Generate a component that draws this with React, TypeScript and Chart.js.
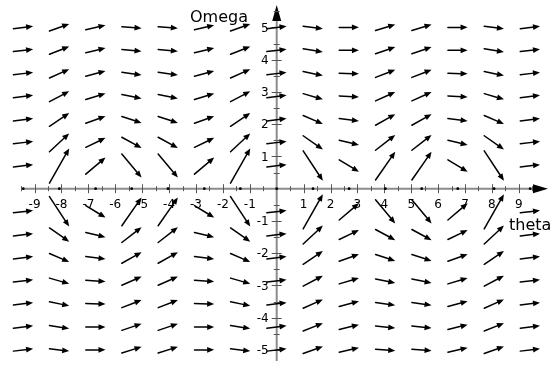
import React, { useEffect, useRef } from "react";
import { Chart, registerables } from "chart.js";

Chart.register(...registerables);

// Grid columns (theta) and rows (Omega) of the direction field
const thetaValues = [-9.42, -8.08, -6.73, -5.39, -4.04, -2.69, -1.35, 0, 1.35, 2.69, 4.04, 5.39, 6.73, 8.08, 9.42];
const omegaValues = [5, 4.29, 3.57, 2.86, 2.14, 1.43, 0.71, -0.71, -1.43, -2.14, -2.86, -3.57, -4.29, -5];

// Slope dOmega/dtheta read at each grid point (rows follow omegaValues)
const slopeRow1 = [0.1, 0.3, 0.19, -0.06, -0.06, 0.19, 0.3, 0.1, -0.1, 0.01, 0.26, 0.26, 0.01, -0.1, 0.1];
const slopeRow2 = [0.1, 0.33, 0.2, -0.08, -0.08, 0.2, 0.33, 0.1, -0.13, 0.0, 0.28, 0.28, 0.0, -0.13, 0.1];
const slopeRow3 = [0.1, 0.37, 0.22, -0.12, -0.12, 0.22, 0.37, 0.1, -0.17, -0.02, 0.32, 0.32, -0.02, -0.17, 0.1];
const slopeRow4 = [0.1, 0.44, 0.25, -0.17, -0.17, 0.25, 0.44, 0.1, -0.24, -0.05, 0.37, 0.37, -0.05, -0.24, 0.1];
const slopeRow5 = [0.1, 0.56, 0.3, -0.27, -0.27, 0.3, 0.56, 0.1, -0.36, -0.1, 0.47, 0.47, -0.1, -0.36, 0.1];
const slopeRow6 = [0.1, 0.78, 0.4, -0.45, -0.45, 0.4, 0.78, 0.1, -0.58, -0.2, 0.65, 0.65, -0.2, -0.58, 0.1];
const slopeRow7 = [0.1, 1.47, 0.71, -1.0, -1.0, 0.71, 1.47, 0.1, -1.27, -0.51, 1.2, 1.2, -0.51, -1.27, 0.1];
const slopeRow8 = [0.1, -1.27, -0.51, 1.2, 1.2, -0.51, -1.27, 0.1, 1.47, 0.71, -1.0, -1.0, 0.71, 1.47, 0.1];
const slopeRow9 = [0.1, -0.58, -0.2, 0.65, 0.65, -0.2, -0.58, 0.1, 0.78, 0.4, -0.45, -0.45, 0.4, 0.78, 0.1];
const slopeRow10 = [0.1, -0.36, -0.1, 0.47, 0.47, -0.1, -0.36, 0.1, 0.56, 0.3, -0.27, -0.27, 0.3, 0.56, 0.1];
const slopeRow11 = [0.1, -0.24, -0.05, 0.37, 0.37, -0.05, -0.24, 0.1, 0.44, 0.25, -0.17, -0.17, 0.25, 0.44, 0.1];
const slopeRow12 = [0.1, -0.17, -0.02, 0.32, 0.32, -0.02, -0.17, 0.1, 0.37, 0.22, -0.12, -0.12, 0.22, 0.37, 0.1];
const slopeRow13 = [0.1, -0.13, 0.0, 0.28, 0.28, 0.0, -0.13, 0.1, 0.33, 0.2, -0.08, -0.08, 0.2, 0.33, 0.1];
const slopeRow14 = [0.1, -0.1, 0.01, 0.26, 0.26, 0.01, -0.1, 0.1, 0.3, 0.19, -0.06, -0.06, 0.19, 0.3, 0.1];
const slopeRows = [
  slopeRow1, slopeRow2, slopeRow3, slopeRow4, slopeRow5, slopeRow6, slopeRow7,
  slopeRow8, slopeRow9, slopeRow10, slopeRow11, slopeRow12, slopeRow13, slopeRow14,
];

const xTickLabels = [-9, -8, -7, -6, -5, -4, -3, -2, -1, 1, 2, 3, 4, 5, 6, 7, 8, 9];
const yTickLabels = [-5, -4, -3, -2, -1, 1, 2, 3, 4, 5];
const xAxisTitle = "theta";
const yAxisTitle = "Omega";

const ARROW_HALF_DX = 0.366;

function drawArrow(ctx: CanvasRenderingContext2D, x1: number, y1: number, x2: number, y2: number) {
  const ang = Math.atan2(y2 - y1, x2 - x1);
  const headLen = 7;
  const headHalf = 2.9;
  const bx = x2 - headLen * Math.cos(ang);
  const by = y2 - headLen * Math.sin(ang);
  ctx.beginPath();
  ctx.moveTo(x1, y1);
  ctx.lineTo(bx + Math.cos(ang) * 1, by + Math.sin(ang) * 1);
  ctx.stroke();
  ctx.beginPath();
  ctx.moveTo(x2, y2);
  ctx.lineTo(bx - headHalf * Math.sin(ang), by + headHalf * Math.cos(ang));
  ctx.lineTo(bx + headHalf * Math.sin(ang), by - headHalf * Math.cos(ang));
  ctx.closePath();
  ctx.fill();
}

const fieldPlugin = {
  id: "fieldPlugin",
  beforeDatasetsDraw(chart: any) {
    const ctx: CanvasRenderingContext2D = chart.ctx;
    const xs = chart.scales.x;
    const ys = chart.scales.y;
    const x0 = xs.getPixelForValue(0);
    const y0 = ys.getPixelForValue(0);
    const left = xs.getPixelForValue(thetaValues[0]);
    const right = chart.chartArea.right;
    const top = chart.chartArea.top;
    const bottom = chart.chartArea.bottom;
    ctx.save();
    // axis lines
    ctx.strokeStyle = "#8c8c8c";
    ctx.lineWidth = 2;
    ctx.beginPath();
    ctx.moveTo(left, y0);
    ctx.lineTo(right - 10, y0);
    ctx.moveTo(x0, bottom);
    ctx.lineTo(x0, top + 10);
    ctx.stroke();
    // arrowheads
    ctx.fillStyle = "#000";
    ctx.beginPath();
    ctx.moveTo(right, y0);
    ctx.lineTo(right - 15, y0 - 4.5);
    ctx.lineTo(right - 15, y0 + 4.5);
    ctx.closePath();
    ctx.fill();
    ctx.beginPath();
    ctx.moveTo(x0, top + 1);
    ctx.lineTo(x0 - 4.5, top + 17);
    ctx.lineTo(x0 + 4.5, top + 17);
    ctx.closePath();
    ctx.fill();
    // ticks
    ctx.strokeStyle = "#555";
    ctx.lineWidth = 1;
    for (let v = -9.5; v <= 9.5; v += 0.5) {
      if (v === 0) continue;
      const px = Math.round(xs.getPixelForValue(v)) + 0.5;
      const major = Number.isInteger(v);
      const h = major ? 4.5 : 2.5;
      ctx.beginPath();
      ctx.moveTo(px, y0 - h);
      ctx.lineTo(px, y0 + h);
      ctx.stroke();
    }
    for (let v = -5; v <= 5.5; v += 0.5) {
      if (v === 0) continue;
      const py = Math.round(ys.getPixelForValue(v)) + 0.5;
      const major = Number.isInteger(v);
      const w = major ? 5 : 3;
      ctx.beginPath();
      ctx.moveTo(x0 - w, py);
      ctx.lineTo(x0 + w, py);
      ctx.stroke();
    }
    // tick labels
    ctx.fillStyle = "#000";
    ctx.font = "12px 'DejaVu Sans'";
    ctx.textAlign = "center";
    ctx.textBaseline = "middle";
    for (const v of xTickLabels) {
      ctx.fillText(String(v), xs.getPixelForValue(v), y0 + 16);
    }
    ctx.textAlign = "right";
    for (const v of yTickLabels) {
      ctx.fillText(String(v), x0 - 8, ys.getPixelForValue(v) + 1);
    }
    // axis titles
    ctx.font = "16px 'DejaVu Sans'";
    ctx.textAlign = "left";
    ctx.textBaseline = "alphabetic";
    ctx.fillText(yAxisTitle, 190, 21.5);
    ctx.fillText(xAxisTitle, 509, 230);
    ctx.restore();
  },
  afterDatasetsDraw(chart: any) {
    const ctx: CanvasRenderingContext2D = chart.ctx;
    const xs = chart.scales.x;
    const ys = chart.scales.y;
    ctx.save();
    ctx.strokeStyle = "#000";
    ctx.fillStyle = "#000";
    ctx.lineWidth = 1.5;
    ctx.lineCap = "round";
    omegaValues.forEach((w, j) => {
      thetaValues.forEach((t, i) => {
        const s = slopeRows[j][i];
        const x1 = xs.getPixelForValue(t - ARROW_HALF_DX);
        const y1 = ys.getPixelForValue(w - ARROW_HALF_DX * s);
        const x2 = xs.getPixelForValue(t + ARROW_HALF_DX);
        const y2 = ys.getPixelForValue(w + ARROW_HALF_DX * s);
        drawArrow(ctx, x1, y1, x2, y2);
      });
    });
    ctx.restore();
  },
};

export default function App() {
  const canvasRef = useRef<HTMLCanvasElement | null>(null);
  useEffect(() => {
    if (!canvasRef.current) return;
    const centers: { x: number; y: number }[] = [];
    omegaValues.forEach((w) => thetaValues.forEach((t) => centers.push({ x: t, y: w })));
    const chart = new Chart(canvasRef.current, {
      type: "scatter",
      data: {
        datasets: [
          { label: "field", data: centers, pointRadius: 0, showLine: false },
          {
            label: "singular",
            data: thetaValues.map((t) => ({ x: t, y: 0 })),
            pointRadius: 1.4,
            pointBackgroundColor: "#000",
            pointBorderWidth: 0,
            showLine: false,
          },
        ],
      },
      options: {
        animation: false,
        responsive: false,
        devicePixelRatio: 1,
        layout: { padding: 0 },
        plugins: { legend: { display: false }, tooltip: { enabled: false } },
        events: [],
        scales: {
          x: { type: "linear", min: -10.136, max: 10.084, display: false },
          y: { type: "linear", min: -5.343, max: 5.728, display: false },
        },
      },
      plugins: [fieldPlugin],
    });
    return () => chart.destroy();
  }, []);
  return (
    <div style={{ position: "fixed", left: 0, top: 0, width: 552, height: 365, background: "#fff" }}>
      <canvas ref={canvasRef} width={552} height={365} style={{ display: "block" }} />
    </div>
  );
}
